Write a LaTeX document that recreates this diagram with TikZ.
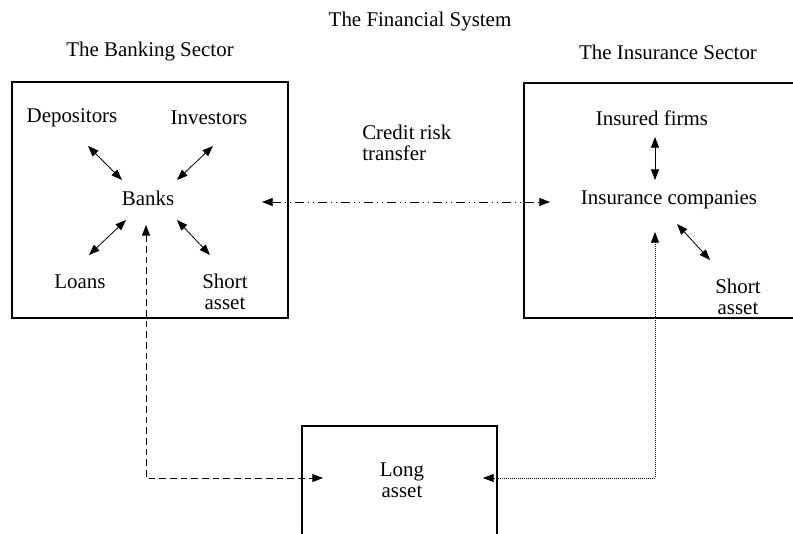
\documentclass[tikz,border=0pt]{standalone}
\usepackage{fontspec}
\setmainfont{Liberation Serif}
\usetikzlibrary{arrows.meta}
\tikzset{
  lbl/.style={inner sep=0pt, font=\fontsize{15.7}{16}\selectfont, align=center},
  sectorbox/.style={line width=0.9pt},
  twoway/.style={{Triangle[length=8pt,width=6pt]}-{Triangle[length=8pt,width=6pt]}, line width=0.6pt},
  crtline/.style={twoway, dash pattern=on 6.75pt off 3pt on 0.75pt off 3pt on 0.75pt off 3pt},
  bankline/.style={twoway, line width=0.7pt, dash pattern=on 5pt off 3pt},
  insline/.style={twoway, line width=0.5pt, dash pattern=on 0.6pt off 0.9pt}
}
\begin{document}
\begin{tikzpicture}[x=0.75pt,y=-0.75pt]
  \clip (0,0) rectangle (793,534);
  % headings
  \node[lbl] (fin) at (420,22) {The Financial System};
  \node[lbl] (bsec) at (150,52) {The Banking Sector};
  \node[lbl] (isec) at (668,52) {The Insurance Sector};
  % boxes
  \draw[sectorbox] (12,82) rectangle (288,318);
  \draw[sectorbox] (524,83) rectangle (810,318);
  \draw[sectorbox] (302,426) rectangle (497,560);
  % banking sector
  \node[lbl] (dep) at (72,118) {Depositors};
  \node[lbl] (inv) at (209,118) {Investors};
  \node[lbl] (banks) at (148,198) {Banks};
  \node[lbl] (loans) at (80,282) {Loans};
  \node[lbl] (bshort) at (225,292) {Short\\asset};
  \draw[twoway] ([shift={(16,28)}]dep.center) -- ([shift={(-26,-18)}]banks.center);
  \draw[twoway] ([shift={(4,28)}]inv.center) -- ([shift={(29,-18)}]banks.center);
  \draw[twoway] ([shift={(9,-27)}]loans.center) -- ([shift={(-22,22)}]banks.center);
  \draw[twoway] ([shift={(-15,-37)}]bshort.center) -- ([shift={(29,22)}]banks.center);
  % insurance sector
  \node[lbl] (insf) at (652,118) {Insured firms};
  \node[lbl] (insc) at (669,200) {Insurance companies};
  \node[lbl] (ishort) at (738,297) {Short\\asset};
  \draw[twoway] ([shift={(3,19)}]insf.center) -- ([shift={(-14,-20)}]insc.center);
  \draw[twoway] ([shift={(8,24)}]insc.center) -- ([shift={(-28,-37)}]ishort.center);
  % between the sectors
  \node[lbl, anchor=west, align=left] (crt) at (362,143) {Credit risk\\transfer};
  \draw[crtline] ([shift={(114,4)}]banks.center) -- ([shift={(-119,2)}]insc.center);
  % long asset
  \node[lbl] (long) at (402,480) {Long\\asset};
  \draw[bankline] ([shift={(-2,27)}]banks.center) |- ([shift={(-79,-2)}]long.center);
  \draw[insline] ([shift={(-14,32)}]insc.center) |- ([shift={(81,-2)}]long.center);
\end{tikzpicture}
\end{document}
